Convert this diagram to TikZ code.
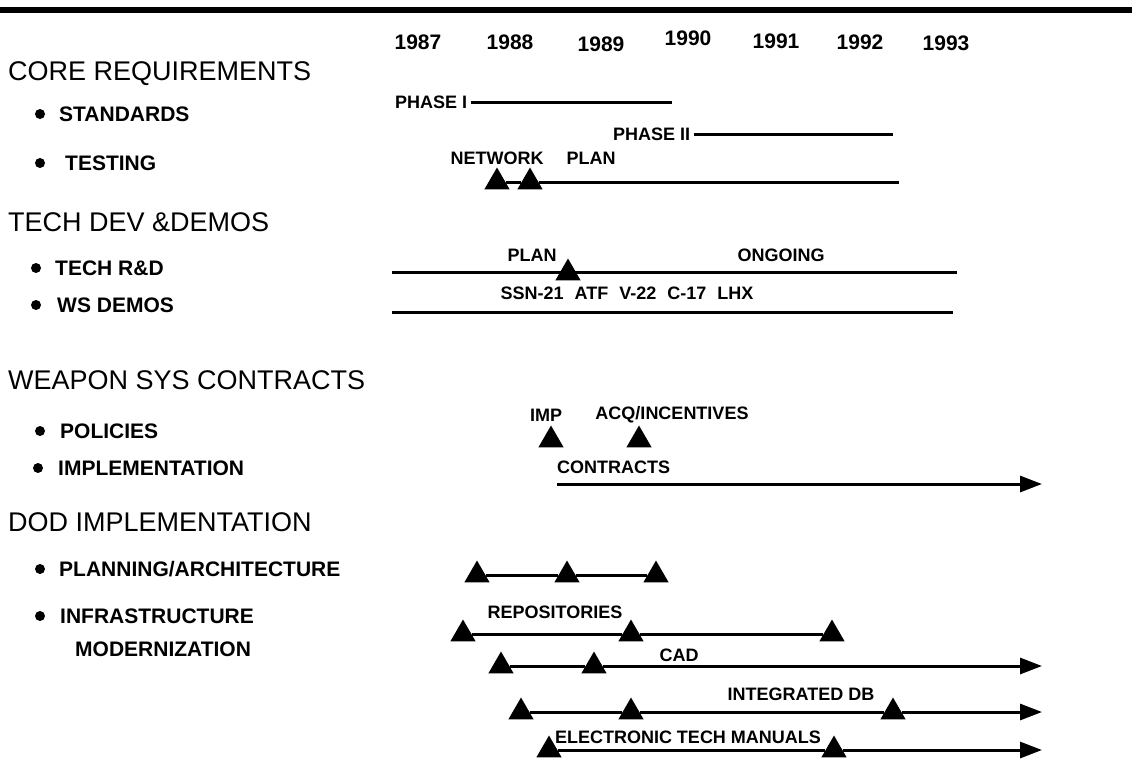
\documentclass[tikz,border=0pt]{standalone}
\usepackage{fontspec}
\setmainfont{Liberation Sans}
\usetikzlibrary{shapes.geometric,arrows.meta,positioning}

\begin{document}
\begin{tikzpicture}[x=1pt, y=-1pt,
  head/.style={anchor=west, inner sep=0pt, font=\fontsize{27}{30}\selectfont},
  item/.style={anchor=west, inner sep=0pt, font=\fontsize{21}{24}\selectfont\bfseries},
  dot/.style={circle, fill=black, inner sep=0pt, minimum size=10pt},
  yr/.style={inner sep=0pt, font=\fontsize{21}{24}\selectfont\bfseries},
  lbl/.style={inner sep=0pt, font=\fontsize{18}{20}\selectfont\bfseries},
  ms/.style={regular polygon, regular polygon sides=3, fill=black, inner sep=0pt, minimum size=29pt},
  bar/.style={line width=3pt},
  arr/.style={line width=3pt, -{Triangle[length=22pt,width=16pt]}}
]
\useasboundingbox (0,0) rectangle (1132,761);

% Top rule
\draw[line width=6pt] (0,10) -- (1132,10);

% Years
\foreach \yy/\px/\py in {1987/418/42, 1988/510/42, 1989/601/44, 1990/688/38,
                          1991/776/41, 1992/860/42, 1993/946/43}
  \node[yr] (y\yy) at (\px,\py) {\yy};

% Left column
\node[head] (core) at (8,74) {CORE REQUIREMENTS};
\node[dot] (b-std) at (40,114) {};  \node[item] (std) at (59,114) {STANDARDS};
\node[dot] (b-tst) at (40,163) {};  \node[item] (tst) at (65,163) {TESTING};
\node[head] (tech) at (8,222) {TECH DEV \&DEMOS};
\node[dot] (b-rd) at (36,268) {};   \node[item] (rd) at (55,268) {TECH R\&D};
\node[dot] (b-ws) at (36,305) {};   \node[item] (ws) at (57,305) {WS DEMOS};
\node[head] (wsc) at (8,380) {WEAPON SYS CONTRACTS};
\node[dot] (b-pol) at (40,431) {};  \node[item] (pol) at (60,431) {POLICIES};
\node[dot] (b-impl) at (38,468) {}; \node[item] (impl) at (58,468) {IMPLEMENTATION};
\node[head] (dod) at (8,522) {DOD IMPLEMENTATION};
\node[dot] (b-pa) at (40,569) {};   \node[item] (pa) at (59,569) {PLANNING/ARCHITECTURE};
\node[dot] (b-inf) at (40,616) {};  \node[item] (inf) at (60,616) {INFRASTRUCTURE};
\node[item] (mod) at (75,649) {MODERNIZATION};

% Standards
\node[lbl, anchor=west] (ph1) at (395,102) {PHASE I};
\coordinate (ph1-end) at (672,102);
\draw[bar] ([xshift=4pt]ph1.east) -- (ph1-end);
\node[lbl, anchor=west] (ph2) at (613,134) {PHASE II};
\coordinate (ph2-end) at (893,134);
\draw[bar] ([xshift=4pt]ph2.east) -- (ph2-end);

% Testing
\node[lbl] (net) at (497,158) {NETWORK};
\node[lbl] (tplan) at (591,158) {PLAN};
\node[ms] (t1) at (497,182) {};
\node[ms] (t2) at (530,182) {};
\coordinate (t-end) at (899,182);
\draw[bar] (t1) -- (t2) -- (t-end);

% Tech R&D
\coordinate (rd-start) at (392,272);
\coordinate (rd-end) at (957,272);
\draw[bar] (rd-start) -- (rd-end);
\node[ms] (rd1) at (568,273) {};
\node[lbl] (rdplan) at (532,255) {PLAN};
\node[lbl] (ongo) at (781,255) {ONGOING};

% WS demos
\node[lbl] (wsnames) at (627,293) {SSN-21\hspace{11pt}ATF\hspace{11pt}V-22\hspace{11pt}C-17\hspace{11pt}LHX};
\coordinate (ws-start) at (392,312);
\coordinate (ws-end) at (953,312);
\draw[bar] (ws-start) -- (ws-end);

% Policies
\node[lbl] (imp) at (546,415) {IMP};
\node[lbl] (acq) at (672,415) {ACQ/INCENTIVES};
\node[ms] (pol1) at (551,440) {};
\node[ms] (pol2) at (639,440) {};

% Implementation
\node[lbl, anchor=west] (ctr) at (557,467) {CONTRACTS};
\coordinate (ctr-start) at (557,484);
\coordinate (ctr-end) at (1042,484);
\draw[arr] (ctr-start) -- (ctr-end);

% Planning/architecture
\node[ms] (pa1) at (477,575) {};
\node[ms] (pa2) at (567,575) {};
\node[ms] (pa3) at (656,575) {};
\draw[bar] (pa1) -- (pa2) -- (pa3);

% Repositories
\node[lbl] (repo) at (555,612) {REPOSITORIES};
\node[ms] (rp1) at (463,634) {};
\node[ms] (rp2) at (631,634) {};
\node[ms] (rp3) at (832,634) {};
\draw[bar] (rp1) -- (rp2) -- (rp3);

% CAD
\node[lbl] (cad) at (679,655) {CAD};
\node[ms] (cd1) at (501,666) {};
\node[ms] (cd2) at (594,666) {};
\coordinate (cd-end) at (1042,666);
\draw[arr] (cd1) -- (cd2) -- (cd-end);

% Integrated DB
\node[lbl] (idb) at (801,694) {INTEGRATED DB};
\node[ms] (db1) at (521,712) {};
\node[ms] (db2) at (631,712) {};
\node[ms] (db3) at (893,712) {};
\coordinate (db-end) at (1042,712);
\draw[arr] (db1) -- (db2) -- (db3) -- (db-end);

% Electronic tech manuals
\node[lbl] (etm) at (688,737) {ELECTRONIC TECH MANUALS};
\node[ms] (em1) at (549,750) {};
\node[ms] (em2) at (834,750) {};
\coordinate (em-end) at (1042,750);
\draw[arr] (em1) -- (em2) -- (em-end);
\end{tikzpicture}
\end{document}
